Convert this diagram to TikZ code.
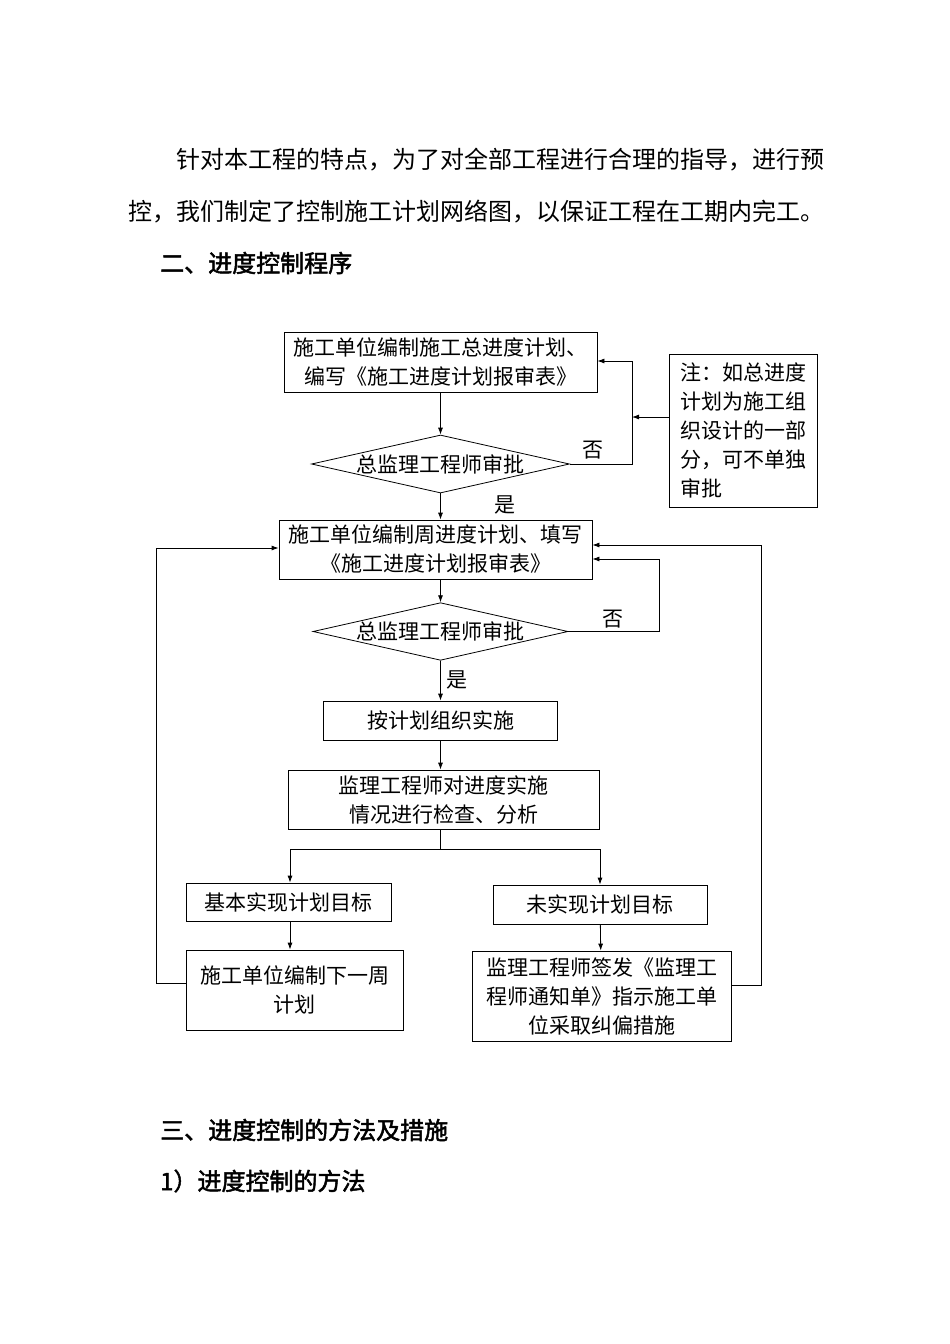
\documentclass[tikz,border=0pt]{standalone}
\usepackage{fontspec}
\setmainfont{Noto Sans CJK SC}
\newfontfamily\cjk{Noto Sans CJK SC}
\newfontfamily\cjkhead{Noto Sans CJK SC}[FakeBold=2]
\usetikzlibrary{shapes.geometric,arrows.meta}
\tikzset{
	chart/.style={font=\cjk\fontsize{21}{29}\selectfont,align=center,inner sep=0pt},
	stepbox/.style={chart,draw,line width=0.8pt},
	check/.style={chart,draw,line width=0.8pt,shape=diamond},
	body/.style={font=\cjk\fontsize{24}{30}\selectfont,anchor=west,inner sep=0pt},
	headline/.style={font=\cjkhead\fontsize{24}{30}\selectfont,anchor=west,inner sep=0pt},
	flow/.style={line width=0.8pt,-{Latex[length=7pt,width=5pt]}},
	link/.style={line width=0.8pt}
}

\begin{document}
\begin{tikzpicture}[x=1pt,y=1pt]
	\useasboundingbox (0,0) rectangle (950,-1344);
	\node[body] (para1) at (176,-160) {针对本工程的特点，为了对全部工程进行合理的指导，进行预};
	\node[body] (para2) at (128,-212) {控，我们制定了控制施工计划网络图，以保证工程在工期内完工。};
	\node[headline] (sec2) at (160,-263) {二、进度控制程序};
	\node[headline] (sec3) at (160,-1130) {三、进度控制的方法及措施};
	\node[headline] (sub1) at (160,-1181) {1）进度控制的方法};

	\node[stepbox,minimum width=313pt,minimum height=60pt] (total) at (440.5,-362) {施工单位编制施工总进度计划、\\编写《施工进度计划报审表》};
	\node[check,minimum width=258pt,minimum height=58pt,aspect=4.4] (approve1) at (440.5,-464) {总监理工程师审批};
	\node[stepbox,align=left,minimum width=148pt,minimum height=153pt] (note) at (743,-430.5) {注：如总进度\\计划为施工组\\织设计的一部\\分，可不单独\\审批};
	\node[stepbox,minimum width=313pt,minimum height=59pt] (weekly) at (435.5,-549.5) {施工单位编制周进度计划、填写\\《施工进度计划报审表》};
	\node[check,minimum width=255pt,minimum height=57pt,aspect=4.4] (approve2) at (440.5,-631.5) {总监理工程师审批};
	\node[stepbox,minimum width=234pt,minimum height=39pt] (execute) at (440.5,-720.5) {按计划组织实施};
	\node[stepbox,minimum width=311pt,minimum height=59pt] (inspect) at (443.5,-799.5) {监理工程师对进度实施\\情况进行检查、分析};
	\node[stepbox,minimum width=205pt,minimum height=38pt] (reached) at (288.5,-902) {基本实现计划目标};
	\node[stepbox,minimum width=214pt,minimum height=39pt] (missed) at (600,-904.5) {未实现计划目标};
	\node[stepbox,minimum width=217pt,minimum height=80pt] (nextweek) at (294.5,-990) {施工单位编制下一周\\计划};
	\node[stepbox,minimum width=259pt,minimum height=90pt] (notice) at (601.5,-996) {监理工程师签发《监理工\\程师通知单》指示施工单\\位采取纠偏措施};

	\node[chart] (no1) at (593,-450) {否};
	\node[chart] (yes1) at (505,-505) {是};
	\node[chart] (no2) at (613,-619) {否};
	\node[chart] (yes2) at (457,-680) {是};

	\coordinate (back1) at (632,-361);
	\coordinate (back2) at (659,-559);
	\coordinate (back3) at (761,-545);
	\coordinate (back4) at (156,-548);
	\coordinate (split) at (440.5,-849);

	\draw[flow] (total) -- (approve1);
	\draw[flow] (approve1.east) -| (back1) -- (back1 -| total.east);
	\draw[flow] (note.west |- 0,-417) -- (back1 |- 0,-417);
	\draw[flow] (approve1) -- (approve1 |- weekly.north);
	\draw[flow] (weekly.south -| approve2) -- (approve2);
	\draw[flow] (approve2.east) -| (back2) -- (back2 -| weekly.east);
	\draw[flow] (approve2) -- (execute);
	\draw[flow] (execute) -- (execute |- inspect.north);
	\draw[link] (inspect.south -| split) -- (split);
	\draw[flow] (split) -| (reached.north -| 290,0);
	\draw[flow] (split) -| (missed.north);
	\draw[flow] (reached.south -| 290,0) -- (nextweek.north -| 290,0);
	\draw[flow] (missed) -- (notice);
	\draw[flow] (nextweek.west |- 0,-983) -| (back4) -- (back4 -| weekly.west);
	\draw[flow] (notice.east |- 0,-985) -| (back3) -- (back3 -| weekly.east);
\end{tikzpicture}
\end{document}
